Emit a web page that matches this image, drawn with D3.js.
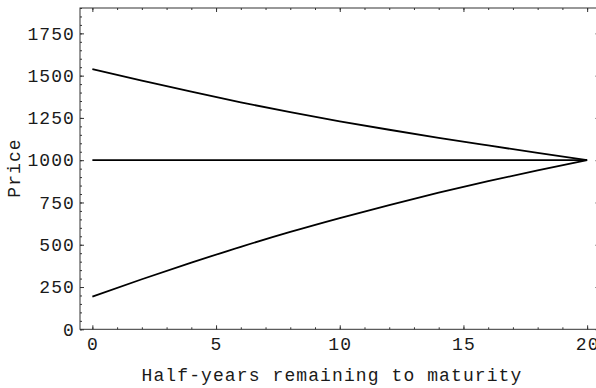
<!DOCTYPE html>
<html>
<head>
<meta charset="utf-8">
<script src="https://cdn.jsdelivr.net/npm/d3@7"></script>
<style>
  body { margin: 0; background: #fff; }
  svg text { font-family: "Liberation Mono", "Courier New", monospace; font-size: 18px; letter-spacing: 1.1px; fill: #1a1a1a; }
</style>
</head>
<body>
<div class="graph"></div>
<script>
// values
var halfYears = [0, 2, 4, 6, 8, 10, 12, 14, 16, 18, 20];
var premiumPrice = [1538, 1471, 1405, 1342, 1284, 1230, 1180, 1132, 1087, 1043, 1000];
var parPrice = [1000, 1000, 1000, 1000, 1000, 1000, 1000, 1000, 1000, 1000, 1000];
var discountPrice = [193, 296, 394, 488, 576, 658, 735, 808, 876, 940, 1000];

var xTicks = [0, 5, 10, 15, 20];
var yTicks = [0, 250, 500, 750, 1000, 1250, 1500, 1750];

var width = 596, height = 388;
var plotLeft = 80, plotRight = 599.5, plotTop = 8, plotBottom = 329.3;

var x = d3.scaleLinear().domain([-0.5, 20.5]).range([plotLeft, plotRight]);
var y = d3.scaleLinear().domain([0, 1900]).range([plotBottom, plotTop]);

var xMinor = d3.range(0, 21, 1);
var yMinor = d3.range(0, 1901, 50);

var svg = d3.select('.graph').append('svg')
    .attr('width', width)
    .attr('height', height);

// frame
svg.append('rect')
    .attr('x', plotLeft).attr('y', plotTop)
    .attr('width', plotRight - plotLeft).attr('height', plotBottom - plotTop)
    .attr('fill', 'none')
    .attr('stroke', '#333')
    .attr('stroke-width', 1);

var tidy = function(g) {
    g.select('.domain').remove();
    g.selectAll('line').attr('stroke', '#333');
    g.attr('font-size', null).attr('font-family', null);
    g.selectAll('text').attr('fill', null);
};

// minor ticks on all sides
svg.append('g').attr('transform', 'translate(0,' + plotBottom + ')')
    .call(d3.axisBottom(x).tickValues(xMinor).tickSize(-2).tickFormat(''))
    .call(tidy);
svg.append('g').attr('transform', 'translate(0,' + plotTop + ')')
    .call(d3.axisTop(x).tickValues(xMinor).tickSize(-2).tickFormat(''))
    .call(tidy);
svg.append('g').attr('transform', 'translate(' + plotLeft + ',0)')
    .call(d3.axisLeft(y).tickValues(yMinor).tickSize(-2).tickFormat(''))
    .call(tidy);
svg.append('g').attr('transform', 'translate(' + plotRight + ',0)')
    .call(d3.axisRight(y).tickValues(yMinor).tickSize(-2).tickFormat(''))
    .call(tidy);

// major ticks
svg.append('g').attr('transform', 'translate(0,' + plotBottom + ')')
    .call(d3.axisBottom(x).tickValues(xTicks).tickSize(-4).tickPadding(8).tickFormat(d3.format('d')))
    .call(tidy);
svg.append('g').attr('transform', 'translate(0,' + plotTop + ')')
    .call(d3.axisTop(x).tickValues(xTicks).tickSize(-4).tickFormat(''))
    .call(tidy);
svg.append('g').attr('transform', 'translate(' + plotLeft + ',0)')
    .call(d3.axisLeft(y).tickValues(yTicks).tickSize(-4).tickPadding(5).tickFormat(d3.format('d')))
    .call(tidy);
svg.append('g').attr('transform', 'translate(' + plotRight + ',0)')
    .call(d3.axisRight(y).tickValues(yTicks).tickSize(-4).tickFormat(''))
    .call(tidy);

// curves
var line = d3.line()
    .x(function(d) { return x(d[0]); })
    .y(function(d) { return y(d[1]); })
    .curve(d3.curveMonotoneX);

[premiumPrice, parPrice, discountPrice].forEach(function(series) {
    svg.append('path')
        .datum(halfYears.map(function(h, i) { return [h, series[i]]; }))
        .attr('fill', 'none')
        .attr('stroke', '#000')
        .attr('stroke-width', 1.8)
        .attr('d', line);
});

// axis titles
svg.append('text')
    .attr('x', 332).attr('y', 381)
    .attr('text-anchor', 'middle')
    .text('Half-years remaining to maturity');

svg.append('text')
    .attr('transform', 'translate(20,168) rotate(-90)')
    .attr('text-anchor', 'middle')
    .text('Price');
</script>
</body>
</html>
